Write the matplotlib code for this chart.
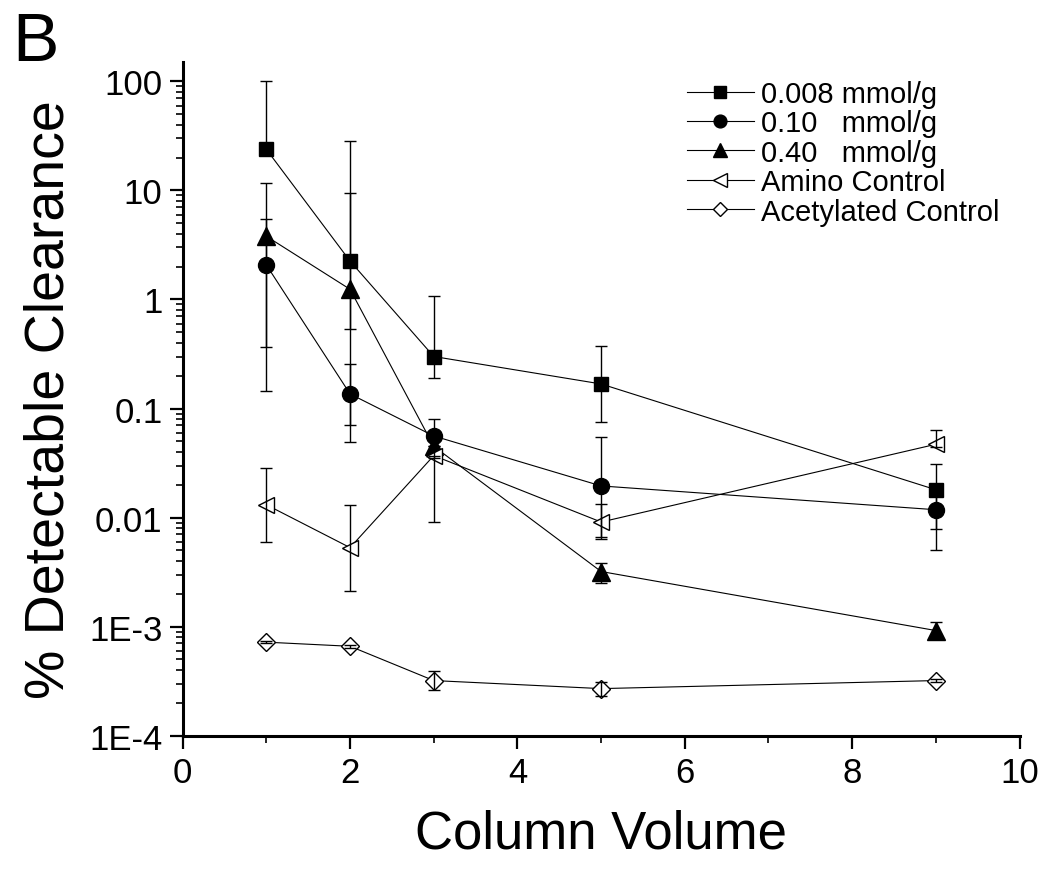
import numpy as np
import matplotlib.pyplot as plt
from matplotlib.ticker import FixedLocator, FixedFormatter, LogLocator, NullFormatter, MultipleLocator

plt.rcParams['font.family'] = ['Liberation Sans', 'DejaVu Sans']

x = [1, 2, 3, 5, 9]

# 0.008 mmol/g
s008 = [23.8, 2.25, 0.30, 0.168, 0.018]
s008_hi = [100, 28.2, 1.07, 0.374, 0.031]
s008_lo = [23.8, 0.54, 0.19, 0.076, 0.005]

# 0.10 mmol/g
s010 = [2.07, 0.136, 0.056, 0.0195, 0.0118]
s010_hi = [5.45, 0.257, 0.080, 0.055, 0.0158]
s010_lo = [0.145, 0.071, 0.035, 0.0063, 0.0079]

# 0.40 mmol/g
s040 = [3.8, 1.24, 0.045, 0.0032, 0.00092]
s040_hi = [11.6, 9.4, 0.045, 0.0038, 0.0011]
s040_lo = [0.37, 0.049, 0.045, 0.0025, 0.00078]

# amino control
amino = [0.0131, 0.0053, 0.037, 0.0091, 0.047]
amino_hi = [0.0286, 0.0131, 0.037, 0.0134, 0.064]
amino_lo = [0.0060, 0.0021, 0.0091, 0.0066, 0.044]

# acetylated control
acet = [0.00072, 0.00066, 0.00032, 0.00027, 0.00032]
acet_hi = [0.00074, 0.00068, 0.00039, 0.00031, 0.00033]
acet_lo = [0.00070, 0.00064, 0.00026, 0.00023, 0.00031]

series = [
    ("0.008 mmol/g", s008, s008_lo, s008_hi, 's', 'black', 10.5),
    ("0.10   mmol/g", s010, s010_lo, s010_hi, 'o', 'black', 11.5),
    ("0.40   mmol/g", s040, s040_lo, s040_hi, '^', 'black', 13),
    ("Amino Control", amino, amino_lo, amino_hi, '<', 'white', 12),
    ("Acetylated Control", acet, acet_lo, acet_hi, 'D', 'white', 9),
]

fig = plt.figure(figsize=(10.5, 8.78), dpi=100)
ax = fig.add_axes([0.174, 0.161, 0.797, 0.767])

handles = []
for label, y, lo, hi, mk, fc, ms in series:
    y = np.array(y)
    yerr = [y - np.array(lo), np.array(hi) - y]
    ln, = ax.plot(x, y, '-', color='black', lw=0.8, marker=mk, ms=ms,
                  mfc=fc, mec='black', mew=1.0, zorder=2, label=label)
    ax.errorbar(x, y, yerr=yerr, fmt='none', ecolor='black', elinewidth=1.0,
                capsize=4.5, capthick=1.0, zorder=3)
    handles.append(ln)

ax.set_yscale('log')
ax.set_ylim(1e-4, 150)
ax.set_xlim(0, 10)

ax.spines['top'].set_visible(False)
ax.spines['right'].set_visible(False)
ax.spines['left'].set_linewidth(2.2)
ax.spines['bottom'].set_linewidth(2.2)

yt = [1e-4, 1e-3, 1e-2, 1e-1, 1, 10, 100]
ylab = ["1E-4", "1E-3", "0.01", "0.1", "1", "10", "100"]
ax.yaxis.set_major_locator(FixedLocator(yt))
ax.yaxis.set_major_formatter(FixedFormatter(ylab))
ax.yaxis.set_minor_locator(LogLocator(base=10, subs=np.arange(2, 10)))
ax.yaxis.set_minor_formatter(NullFormatter())
ax.xaxis.set_major_locator(MultipleLocator(2))
ax.xaxis.set_minor_locator(MultipleLocator(1))

ax.tick_params(axis='both', which='major', direction='out', length=9.5, width=1.6,
               labelsize=25, pad=5)
ax.tick_params(axis='both', which='minor', direction='out', length=5, width=1.2)

ax.set_xlabel("Column Volume", fontsize=38, labelpad=14)
ax.set_ylabel("% Detectable Clearance", fontsize=40, labelpad=10)

fig.text(0.012, 0.988, "B", fontsize=50, va='top', ha='left')

ax.legend(handles=handles, loc='upper left', bbox_to_anchor=(0.654, 0.908),
          bbox_transform=fig.transFigure, frameon=False, fontsize=21,
          borderpad=0, borderaxespad=0,
          handlelength=2.3, handletextpad=0.25, labelspacing=0.05, markerscale=0.8)

fig.savefig("out.png", dpi=100)
